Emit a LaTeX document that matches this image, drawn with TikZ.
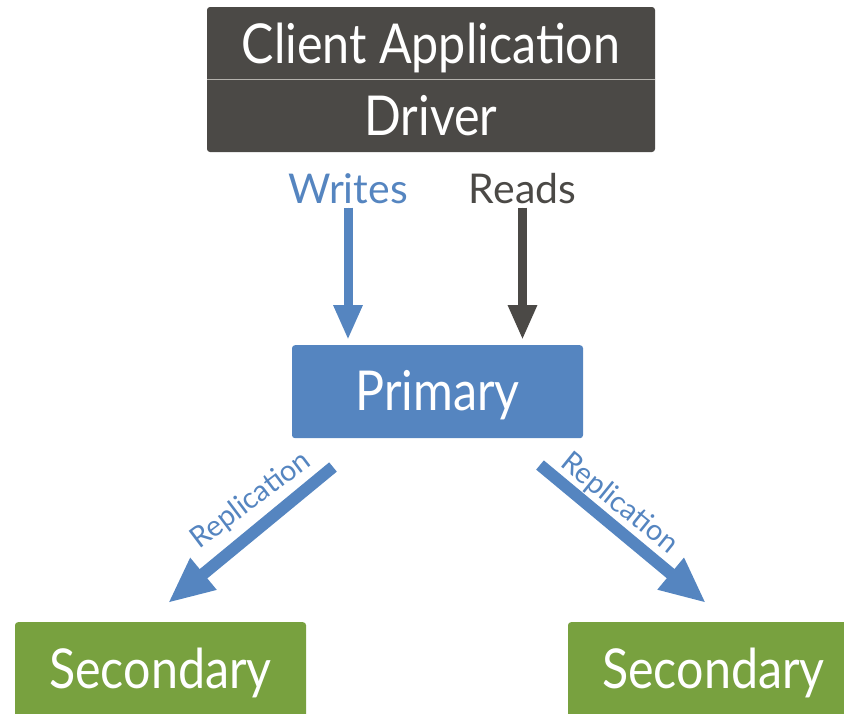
\documentclass[tikz,border=0pt]{standalone}
\usepackage{fontspec}
\setmainfont{Lato}
\newfontfamily\gs[FakeStretch=0.88]{Lato}
\usetikzlibrary{arrows.meta}
\definecolor{dgray}{HTML}{4B4946}
\definecolor{mblue}{HTML}{5585C0}
\definecolor{mgreen}{HTML}{78A13F}
\definecolor{divgray}{HTML}{B4B2AD}
\begin{document}
\begin{tikzpicture}[x=1pt,y=-1pt,
  box/.style={rounded corners=3pt, inner sep=0pt, draw=none, text=white},
  big/.style={font=\gs\fontsize{55}{60}\selectfont},
  lbl/.style={anchor=base, inner sep=0pt, font=\fontsize{41}{46}\selectfont},
  rep/.style={anchor=base, inner sep=0pt, text=mblue, font=\fontsize{29}{33}\selectfont},
  varrow/.style={line width=9pt, -{Triangle[width=27pt,length=35pt]}, shorten <=4pt, shorten >=5pt},
  darrow/.style={line width=12pt, draw=mblue, -{Triangle[width=38pt,length=46pt]}},
]
\path[use as bounding box] (0,0) rectangle (844,713);
\begin{scope}
\clip (0,0) rectangle (844,713);
% top box
\node[box, fill=dgray, minimum width=448pt, minimum height=145pt] (app) at (431,79.5) {};
\draw[divgray, line width=1.5pt] (app.west) -- (app.east);
\node[anchor=base, inner sep=0pt, text=white, big] (client) at (431,63) {Client Application};
\node[anchor=base, inner sep=0pt, text=white, big] (driver) at (431,135) {Driver};
% labels
\node[lbl, text=mblue] (writes) at (348,203) {Writes};
\node[lbl, text=dgray] (reads) at (522.5,203) {Reads};
% primary
\node[box, fill=mblue, anchor=north, minimum width=291pt, text height=65pt, text depth=28pt, big] (prim) at (437.5,345) {Primary};
% arrows
\draw[varrow, draw=mblue, fill=mblue] (writes.south) -- (writes.south |- prim.north);
\draw[varrow, draw=dgray, fill=dgray] (reads.south) -- (reads.south |- prim.north);
% secondaries
\node[box, fill=mgreen, anchor=north, minimum width=291pt, text height=66pt, text depth=30pt, big] (sec1) at (160.5,622) {Secondary};
\node[box, fill=mgreen, anchor=north, minimum width=291pt, text height=66pt, text depth=30pt, big] (sec2) at (713.5,622) {Secondary};
% replication
\coordinate (lt) at (333,467);
\coordinate (lh) at (168,603);
\coordinate (rt) at (540,465);
\coordinate (rh) at (706,603);
\draw[darrow] (lt) -- (lh);
\draw[darrow] (rt) -- (rh);
\node[rep, rotate=37] (repl) at (256,507) {Replication};
\node[rep, rotate=-39] (repr) at (614,510) {Replication};
\end{scope}
\end{tikzpicture}
\end{document}
